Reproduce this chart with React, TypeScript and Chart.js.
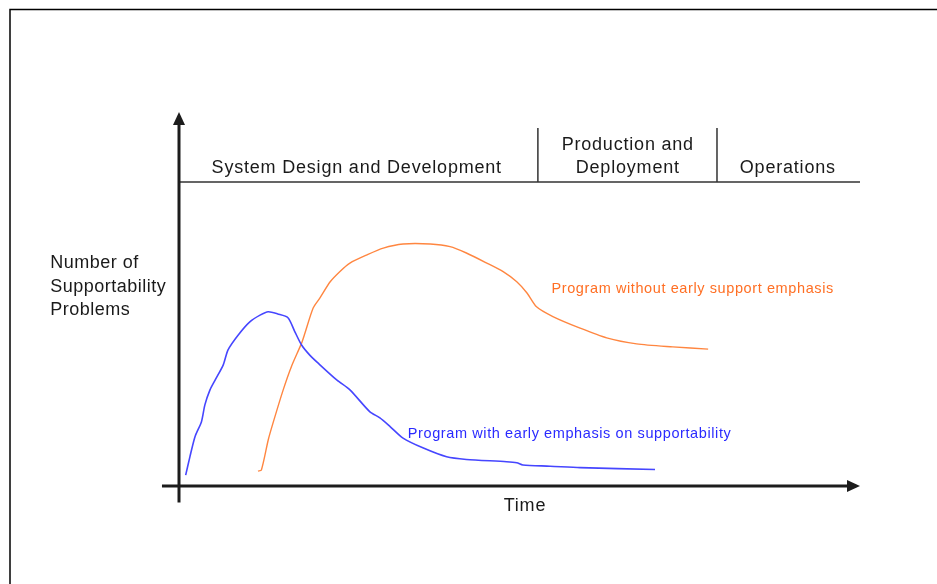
import React, { useEffect, useRef } from "react";
import { Chart, registerables } from "chart.js";

Chart.register(...registerables);

// Time axis runs 0..100 (arrow tip at 100); problems axis 0..100 (arrow tip at 100)
const blueX = [0.98, 1.6, 2.35, 3.3, 3.8, 4.55, 5.3, 6.5, 7.2, 8.7, 10.4, 11.9, 13.1, 14.5, 16.0, 17.0, 18.0, 19.2, 20.4, 23.2, 25.1, 28.0, 29.5, 31.0, 32.9, 35.8, 39.3, 42.2, 48.1, 49.6, 50.5, 54.5, 58.9, 69.9];
const blueY = [2.9, 7.8, 13.2, 17.2, 21.7, 25.7, 28.3, 32.4, 36.4, 40.4, 43.9, 45.7, 46.6, 46.0, 45.0, 41.3, 37.7, 35.0, 32.9, 28.3, 25.7, 19.9, 18.2, 15.9, 12.8, 10.2, 7.8, 7.1, 6.5, 6.2, 5.6, 5.3, 4.9, 4.4];

const orangeX = [11.6, 12.1, 13.1, 13.8, 15.3, 16.5, 18.0, 18.5, 19.7, 20.7, 22.2, 23.6, 25.1, 27.6, 30.0, 32.9, 36.9, 39.8, 42.2, 45.2, 47.6, 49.6, 51.1, 52.5, 54.9, 58.9, 62.8, 67.2, 72.5, 77.7];
const orangeY = [4.0, 4.3, 12.3, 16.8, 25.7, 31.9, 38.2, 40.9, 47.6, 50.3, 54.6, 57.3, 59.6, 61.8, 63.6, 64.7, 64.7, 64.0, 62.3, 59.6, 57.3, 54.6, 51.6, 47.9, 45.3, 42.2, 39.6, 38.0, 37.2, 36.6];

const seriesNames = ["Program with early emphasis on supportability", "Program without early support emphasis"];

// Phases along the time axis
const phaseBoundaries = [52.7, 79.0];
const phaseLineLevel = 81.3;
const phaseDividerTop = 95.7;
const phaseLabels = [
  { lines: ["System Design and Development"], x: 26.1 },
  { lines: ["Production and", "Deployment"], x: 65.9 },
  { lines: ["Operations"], x: 89.4 },
];
const phaseBaseline = 83.7;
const phaseLineStep = 6.2;

const yAxisTitle = ["Number of", "Supportability", "Problems"];
const yTitleX = -18.9;
const yTitleBaselines = [58.4, 52.0, 45.6];
const xAxisTitle = "Time";
const xTitleX = 50.8;
const xTitleBaseline = -6.7;

const blueLabelPos = { x: 33.6, y: 12.8 };
const orangeLabelPos = { x: 54.7, y: 51.5 };

const axisYStart = -4.4;
const axisXStart = -2.5;

const BLUE = "#4646ff";
const BLUE_TEXT = "#2a2aff";
const ORANGE = "#ff8640";
const ORANGE_TEXT = "#ff6f24";
const INK = "#1c1c1c";
const FONT = '"Liberation Sans", Arial, sans-serif';

const decorPlugin = {
  id: "decor",
  afterDraw(chart: any) {
    const ctx = chart.ctx as CanvasRenderingContext2D;
    const xs = chart.scales.x;
    const ys = chart.scales.y;
    const px = (v: number) => xs.getPixelForValue(v);
    const py = (v: number) => ys.getPixelForValue(v);

    ctx.save();
    // outer frame (top and left visible)
    ctx.strokeStyle = "#000";
    ctx.lineWidth = 1.5;
    ctx.beginPath();
    ctx.moveTo(10, chart.height + 10);
    ctx.lineTo(10, 9.5);
    ctx.lineTo(chart.width + 10, 9.5);
    ctx.stroke();

    // phase line and dividers
    ctx.strokeStyle = "#333";
    ctx.lineWidth = 1.5;
    ctx.beginPath();
    ctx.moveTo(px(0), py(phaseLineLevel));
    ctx.lineTo(px(100), py(phaseLineLevel));
    phaseBoundaries.forEach((b) => {
      ctx.moveTo(px(b), py(phaseLineLevel));
      ctx.lineTo(px(b), py(phaseDividerTop));
    });
    ctx.stroke();

    // axes
    ctx.strokeStyle = INK;
    ctx.fillStyle = INK;
    ctx.lineWidth = 3;
    ctx.beginPath();
    ctx.moveTo(px(0), py(axisYStart));
    ctx.lineTo(px(0), py(100) + 10);
    ctx.moveTo(px(axisXStart), py(0));
    ctx.lineTo(px(100) - 10, py(0));
    ctx.stroke();
    // arrow heads
    ctx.beginPath();
    ctx.moveTo(px(0), py(100));
    ctx.lineTo(px(0) - 6, py(100) + 13);
    ctx.lineTo(px(0) + 6, py(100) + 13);
    ctx.closePath();
    ctx.fill();
    ctx.beginPath();
    ctx.moveTo(px(100), py(0));
    ctx.lineTo(px(100) - 13, py(0) - 6);
    ctx.lineTo(px(100) - 13, py(0) + 6);
    ctx.closePath();
    ctx.fill();

    // texts
    (ctx as any).letterSpacing = "0.8px";
    ctx.font = `18px ${FONT}`;
    ctx.fillStyle = "#1a1a1a";
    ctx.textBaseline = "alphabetic";
    ctx.textAlign = "center";
    phaseLabels.forEach((p) => {
      const n = p.lines.length;
      p.lines.forEach((line, i) => {
        const base = phaseBaseline + (n - 1 - i) * phaseLineStep;
        ctx.fillText(line, px(p.x), py(base));
      });
    });
    ctx.fillText(xAxisTitle, px(xTitleX), py(xTitleBaseline));
    ctx.textAlign = "left";
    (ctx as any).letterSpacing = "0.5px";
    yAxisTitle.forEach((line, i) => {
      ctx.fillText(line, px(yTitleX), py(yTitleBaselines[i]));
    });

    (ctx as any).letterSpacing = "0.6px";
    ctx.font = `14.5px ${FONT}`;
    ctx.fillStyle = BLUE_TEXT;
    ctx.fillText(seriesNames[0], px(blueLabelPos.x), py(blueLabelPos.y));
    ctx.fillStyle = ORANGE_TEXT;
    ctx.fillText(seriesNames[1], px(orangeLabelPos.x), py(orangeLabelPos.y));
    ctx.restore();
  },
};

export default function App() {
  const canvasRef = useRef<HTMLCanvasElement | null>(null);

  useEffect(() => {
    const canvas = canvasRef.current;
    if (!canvas) return;
    const chart = new Chart(canvas, {
      type: "line",
      data: {
        datasets: [
          {
            label: seriesNames[0],
            data: blueX.map((x, i) => ({ x, y: blueY[i] })),
            borderColor: BLUE,
            borderWidth: 1.6,
            pointRadius: 0,
            tension: 0.25,
            fill: false,
          },
          {
            label: seriesNames[1],
            data: orangeX.map((x, i) => ({ x, y: orangeY[i] })),
            borderColor: ORANGE,
            borderWidth: 1.4,
            pointRadius: 0,
            tension: 0.25,
            fill: false,
          },
        ],
      },
      options: {
        responsive: false,
        animation: false,
        devicePixelRatio: 1,
        layout: { padding: { left: 179, right: 77, top: 112, bottom: 98 } },
        scales: {
          x: { type: "linear", min: 0, max: 100, display: false },
          y: { type: "linear", min: 0, max: 100, display: false },
        },
        plugins: {
          legend: { display: false },
          tooltip: { enabled: false },
        },
      },
      plugins: [decorPlugin],
    });
    return () => chart.destroy();
  }, []);

  return (
    <div style={{ position: "fixed", left: 0, top: 0, width: 937, height: 584, background: "#fff" }}>
      <canvas ref={canvasRef} width={937} height={584} style={{ display: "block" }} />
    </div>
  );
}
